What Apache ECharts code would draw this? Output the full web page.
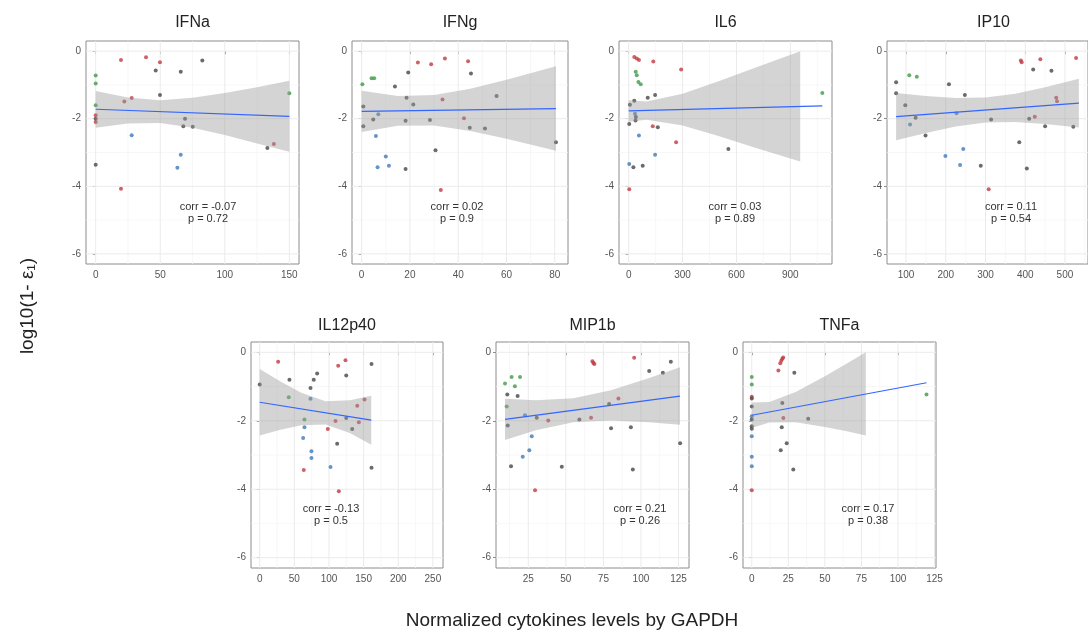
<!DOCTYPE html>
<html>
<head>
<meta charset="utf-8">
<script src="https://cdn.jsdelivr.net/npm/echarts@6/dist/echarts.min.js"></script>
<style>
  html, body { margin: 0; padding: 0; background: #ffffff; }
  #chart { width: 1088px; height: 636px; }
</style>
</head>
<body>
<div id="chart"></div>
<script>
// ---- Data: one block per cytokine. Points are [level, log10(1-e), group]. ----
// groups: r = red, g = green, b = blue, k = dark grey
const ifnaPoints = [[0,-0.72,'g'],[0,-0.96,'g'],[0,-1.6,'g'],[0,-1.9,'r'],[0,-2.0,'k'],[0,-2.1,'r'],[0,-3.36,'k'],
  [19.6,-0.26,'r'],[19.6,-4.07,'r'],[22.2,-1.49,'r'],[27.9,-1.39,'r'],[27.9,-2.49,'b'],[39,-0.18,'r'],[46.5,-0.57,'k'],
  [49.8,-0.33,'r'],[49.8,-1.3,'k'],[63.3,-3.45,'b'],[65.9,-0.61,'k'],[65.9,-3.07,'b'],[67.9,-2.22,'k'],[69.2,-2.0,'k'],
  [75.2,-2.24,'k'],[82.6,-0.28,'k'],[133,-2.87,'k'],[138,-2.75,'r'],[150,-1.25,'g']];
const ifnaFitX = [0, 150];
const ifnaFitY = [-1.72, -1.93];
const ifnaBandX = [0, 25, 50, 75, 100, 125, 150];
const ifnaBandLo = [-2.27, -2.14, -2.13, -2.27, -2.48, -2.73, -2.98];
const ifnaBandHi = [-1.18, -1.37, -1.45, -1.38, -1.24, -1.07, -0.88];
const ifnaTicks = [0, 50, 100, 150];

const ifngPoints = [[0.3,-0.98,'g'],[0.7,-1.64,'k'],[0.7,-2.22,'k'],[4.1,-0.8,'g'],[5.2,-0.8,'g'],[4.8,-2.02,'k'],
  [6.9,-1.87,'b'],[5.9,-2.51,'b'],[6.6,-3.44,'b'],[10,-3.12,'b'],[11.3,-3.39,'b'],[13.8,-1.05,'k'],[18.2,-3.49,'k'],
  [18.2,-2.06,'k'],[18.6,-1.38,'k'],[19.3,-0.63,'k'],[21.4,-1.58,'k'],[23.3,-0.34,'r'],[28.3,-2.04,'k'],[28.8,-0.39,'r'],
  [30.6,-2.93,'k'],[32.8,-4.11,'r'],[33.5,-1.43,'r'],[34.5,-0.22,'r'],[42.4,-1.99,'r'],[44.1,-0.3,'r'],[44.8,-2.27,'k'],
  [45.3,-0.66,'k'],[51.1,-2.29,'k'],[55.9,-1.33,'k'],[80.5,-2.7,'k']];
const ifngFitX = [0, 80.5];
const ifngFitY = [-1.78, -1.70];
const ifngBandX = [0, 15, 30, 45, 60, 80.5];
const ifngBandLo = [-2.39, -2.21, -2.20, -2.36, -2.59, -2.95];
const ifngBandHi = [-1.17, -1.33, -1.30, -1.11, -0.85, -0.45];
const ifngTicks = [0, 20, 40, 60, 80];

const il6Points = [[31,-0.17,'r'],[45,-0.22,'r'],[57,-0.26,'r'],[137,-0.31,'r'],[292,-0.54,'r'],[39,-0.61,'g'],
  [45,-0.71,'g'],[54,-0.91,'g'],[67,-0.98,'g'],[106,-1.38,'k'],[147,-1.3,'k'],[31,-1.47,'k'],[7,-1.59,'k'],
  [35,-1.85,'b'],[40,-1.95,'k'],[38,-2.05,'k'],[3,-2.16,'k'],[134,-2.22,'r'],[162,-2.25,'k'],[57,-2.5,'b'],
  [264,-2.7,'r'],[555,-2.9,'k'],[147,-3.07,'b'],[3,-3.34,'b'],[26,-3.44,'k'],[78,-3.39,'k'],[3,-4.09,'r'],[1078,-1.24,'g']];
const il6FitX = [0, 1078];
const il6FitY = [-1.77, -1.62];
const il6BandX = [0, 100, 300, 500, 700, 955];
const il6BandLo = [-2.09, -2.03, -2.20, -2.51, -2.85, -3.27];
const il6BandHi = [-1.45, -1.49, -1.26, -0.89, -0.50, 0.0];
const il6Ticks = [0, 300, 600, 900];

const ip10Points = [[75,-0.92,'k'],[75,-1.25,'k'],[98,-1.6,'k'],[108,-0.71,'g'],[127,-0.76,'g'],[110,-2.17,'b'],
  [124,-1.97,'k'],[149,-2.5,'k'],[199,-3.1,'b'],[208,-0.98,'k'],[227,-1.84,'b'],[236,-3.37,'b'],[244,-2.9,'b'],
  [248,-1.3,'k'],[288,-3.39,'k'],[308,-4.09,'r'],[314,-2.02,'k'],[385,-2.7,'k'],[389,-0.28,'r'],[391,-0.33,'r'],
  [404,-3.47,'k'],[410,-2.0,'k'],[420,-0.54,'k'],[424,-1.94,'r'],[438,-0.24,'r'],[450,-2.22,'k'],[466,-0.58,'k'],
  [478,-1.38,'r'],[480,-1.48,'r'],[521,-2.24,'k'],[528,-0.2,'r']];
const ip10FitX = [75, 535];
const ip10FitY = [-1.94, -1.54];
const ip10BandX = [75, 150, 225, 300, 375, 450, 535];
const ip10BandLo = [-2.64, -2.42, -2.23, -2.11, -2.10, -2.16, -2.26];
const ip10BandHi = [-1.24, -1.33, -1.39, -1.37, -1.26, -1.07, -0.82];
const ip10Ticks = [100, 200, 300, 400, 500];

const il12Points = [[0,-0.94,'k'],[26.6,-0.28,'r'],[42.9,-0.8,'k'],[41.9,-1.31,'g'],[62.7,-2.5,'b'],[64.6,-2.19,'b'],
  [64.6,-1.96,'g'],[63.6,-3.44,'r'],[73.3,-1.04,'k'],[73.3,-1.36,'b'],[74.7,-2.89,'b'],[74.7,-3.09,'b'],[78,-0.8,'k'],
  [82.9,-0.62,'k'],[98.3,-2.24,'r'],[102.2,-3.35,'b'],[109.4,-2.01,'r'],[111.8,-2.67,'k'],[113.3,-0.39,'r'],
  [114.2,-4.06,'r'],[123.8,-0.23,'r'],[124.9,-0.68,'k'],[124.9,-1.92,'k'],[133.5,-2.24,'k'],[140.8,-1.56,'r'],
  [143.1,-2.04,'r'],[151.3,-1.38,'r'],[161.4,-0.34,'k'],[161.4,-3.37,'k']];
const il12FitX = [0, 161];
const il12FitY = [-1.46, -1.98];
const il12BandX = [0, 30, 60, 95, 130, 161];
const il12BandLo = [-2.43, -2.26, -2.13, -2.11, -2.36, -2.70];
const il12BandHi = [-0.49, -0.85, -1.18, -1.43, -1.40, -1.27];
const il12Ticks = [0, 50, 100, 150, 200, 250];

const mip1bPoints = [[9.5,-0.91,'g'],[11,-1.23,'k'],[13.9,-0.72,'g'],[16.1,-0.99,'g'],[19.5,-0.72,'g'],[17.9,-1.28,'k'],
  [10.6,-1.58,'g'],[11.3,-2.14,'k'],[13.5,-3.33,'k'],[22.8,-1.84,'b'],[21.3,-3.05,'b'],[25.7,-2.86,'b'],[27.3,-2.45,'b'],
  [30.6,-1.91,'k'],[29.5,-4.03,'r'],[38.3,-1.99,'r'],[47.3,-3.34,'k'],[59,-1.96,'k'],[66.8,-1.91,'r'],[67.7,-0.26,'r'],
  [68.3,-0.31,'r'],[69,-0.34,'r'],[78.8,-1.51,'k'],[85,-1.35,'r'],[80.1,-2.22,'k'],[93.3,-2.19,'k'],[94.6,-3.42,'k'],
  [95.5,-0.16,'r'],[105.5,-0.55,'k'],[114.6,-0.6,'k'],[119.9,-0.28,'k'],[126.1,-2.66,'k']];
const mip1bFitX = [9.5, 126];
const mip1bFitY = [-1.96, -1.28];
const mip1bBandX = [9.5, 30, 55, 80, 105, 126];
const mip1bBandLo = [-2.56, -2.28, -2.04, -1.99, -2.04, -2.12];
const mip1bBandHi = [-1.36, -1.40, -1.34, -1.11, -0.76, -0.44];
const mip1bTicks = [25, 50, 75, 100, 125];

const tnfaPoints = [[0,-0.72,'g'],[0,-0.94,'g'],[0,-1.3,'r'],[0,-1.35,'k'],[0,-1.58,'k'],[0,-1.87,'b'],[0,-1.96,'k'],
  [0,-2.16,'k'],[0,-2.23,'k'],[0,-2.45,'b'],[0,-3.05,'b'],[0,-3.33,'b'],[0,-4.03,'r'],[18.2,-0.53,'r'],[19.5,-0.32,'r'],
  [20.2,-0.25,'r'],[20.9,-0.19,'r'],[21.5,-0.15,'r'],[29.1,-0.6,'k'],[20.9,-1.48,'k'],[21.6,-1.92,'r'],[20.5,-2.19,'k'],
  [19.8,-2.86,'k'],[23.9,-2.66,'k'],[28.4,-3.42,'k'],[38.6,-1.94,'k'],[119.5,-1.23,'g']];
const tnfaFitX = [0, 119.5];
const tnfaFitY = [-1.84, -0.89];
const tnfaBandX = [0, 12, 30, 50, 65, 78];
const tnfaBandLo = [-2.21, -2.05, -2.04, -2.18, -2.31, -2.43];
const tnfaBandHi = [-1.47, -1.45, -1.16, -0.70, -0.33, 0.0];
const tnfaTicks = [0, 25, 50, 75, 100, 125];

// correlation statistics printed inside each panel
const corrLabels = ['corr = -0.07', 'corr = 0.02', 'corr = 0.03', 'corr = 0.11', 'corr = -0.13', 'corr = 0.21', 'corr = 0.17'];
const pLabels = ['p = 0.72', 'p = 0.9', 'p = 0.89', 'p = 0.54', 'p = 0.5', 'p = 0.26', 'p = 0.38'];
const panelNames = ['IFNa', 'IFNg', 'IL6', 'IP10', 'IL12p40', 'MIP1b', 'TNFa'];
const yTicks = [-6, -4, -2, 0];
const yMinor = [-5, -3, -1];

// ---- Layout of the facet grid ----
const Y_MIN = -6.3, Y_MAX = 0.3;
const layout = [
  { left: 86,  top: 41,  width: 213, height: 223, xMin: -7.5, xMax: 157.5, textX: 208 },
  { left: 352, top: 41,  width: 216, height: 223, xMin: -4,   xMax: 85.5,  textX: 457 },
  { left: 619, top: 41,  width: 213, height: 223, xMin: -54,  xMax: 1132,  textX: 735 },
  { left: 887, top: 41,  width: 213, height: 223, xMin: 52,   xMax: 558,   textX: 1011 },
  { left: 251, top: 342, width: 192, height: 226, xMin: -12.6, xMax: 264.6, textX: 331 },
  { left: 496, top: 342, width: 193, height: 226, xMin: 3.5,  xMax: 132,   textX: 640 },
  { left: 743, top: 342, width: 193, height: 226, xMin: -6,   xMax: 126,   textX: 868 }
];

const panelData = [
  { pts: ifnaPoints,  fitX: ifnaFitX,  fitY: ifnaFitY,  bx: ifnaBandX,  lo: ifnaBandLo,  hi: ifnaBandHi,  ticks: ifnaTicks },
  { pts: ifngPoints,  fitX: ifngFitX,  fitY: ifngFitY,  bx: ifngBandX,  lo: ifngBandLo,  hi: ifngBandHi,  ticks: ifngTicks },
  { pts: il6Points,   fitX: il6FitX,   fitY: il6FitY,   bx: il6BandX,   lo: il6BandLo,   hi: il6BandHi,   ticks: il6Ticks },
  { pts: ip10Points,  fitX: ip10FitX,  fitY: ip10FitY,  bx: ip10BandX,  lo: ip10BandLo,  hi: ip10BandHi,  ticks: ip10Ticks },
  { pts: il12Points,  fitX: il12FitX,  fitY: il12FitY,  bx: il12BandX,  lo: il12BandLo,  hi: il12BandHi,  ticks: il12Ticks },
  { pts: mip1bPoints, fitX: mip1bFitX, fitY: mip1bFitY, bx: mip1bBandX, lo: mip1bBandLo, hi: mip1bBandHi, ticks: mip1bTicks },
  { pts: tnfaPoints,  fitX: tnfaFitX,  fitY: tnfaFitY,  bx: tnfaBandX,  lo: tnfaBandLo,  hi: tnfaBandHi,  ticks: tnfaTicks }
];

const GROUP_COLORS = { r: '#c23a41', g: '#43994a', b: '#3f79b8', k: '#464646' };
const FONT = "'Liberation Sans', Arial, sans-serif";
const TICK_COLOR = '#555555';
const BORDER = '#8c8c8c';

const grids = [], xAxes = [], yAxes = [], series = [], graphics = [];

panelData.forEach((pd, i) => {
  const L = layout[i];
  grids.push({ left: L.left, top: L.top, width: L.width, height: L.height,
    show: true, borderColor: BORDER, borderWidth: 1, backgroundColor: '#ffffff' });

  xAxes.push({
    type: 'value', gridIndex: i, min: L.xMin, max: L.xMax,
    axisLine: { show: false },
    splitLine: { show: false },
    axisTick: { show: true, customValues: pd.ticks, length: 3, lineStyle: { color: BORDER } },
    axisLabel: { customValues: pd.ticks, color: TICK_COLOR, fontSize: 10, fontFamily: FONT, margin: 6 }
  });
  yAxes.push({
    type: 'value', gridIndex: i, min: Y_MIN, max: Y_MAX,
    axisLine: { show: false },
    splitLine: { show: false },
    axisTick: { show: true, customValues: yTicks, length: 3, lineStyle: { color: BORDER } },
    axisLabel: { customValues: yTicks, color: TICK_COLOR, fontSize: 10, fontFamily: FONT, margin: 5 }
  });

  // background grid lines: [value, direction (0 = vertical, 1 = horizontal), major?]
  const minorX = [];
  for (let k = 0; k < pd.ticks.length - 1; k++) minorX.push((pd.ticks[k] + pd.ticks[k + 1]) / 2);
  const step = pd.ticks[1] - pd.ticks[0];
  if (pd.ticks[0] - step / 2 > L.xMin) minorX.push(pd.ticks[0] - step / 2);
  if (pd.ticks[pd.ticks.length - 1] + step / 2 < L.xMax) minorX.push(pd.ticks[pd.ticks.length - 1] + step / 2);
  const gridLines = [];
  minorX.forEach(v => gridLines.push([v, 0, 0]));
  yMinor.forEach(v => gridLines.push([v, 1, 0]));
  pd.ticks.forEach(v => gridLines.push([v, 0, 1]));
  yTicks.forEach(v => gridLines.push([v, 1, 1]));
  series.push({
    type: 'custom', xAxisIndex: i, yAxisIndex: i, silent: true, z: 1,
    data: gridLines,
    encode: { x: -1, y: -1 },
    renderItem: (params, api) => {
      const v = api.value(0), dir = api.value(1), major = api.value(2);
      const p1 = dir === 0 ? api.coord([v, Y_MIN]) : api.coord([L.xMin, v]);
      const p2 = dir === 0 ? api.coord([v, Y_MAX]) : api.coord([L.xMax, v]);
      return { type: 'line', shape: { x1: p1[0], y1: p1[1], x2: p2[0], y2: p2[1] },
        style: { stroke: major ? '#ebebeb' : '#f4f4f4', lineWidth: major ? 1 : 0.7 } };
    }
  });

  // observations
  series.push({
    type: 'scatter', xAxisIndex: i, yAxisIndex: i, z: 2, symbolSize: 4, silent: true,
    data: pd.pts.map(p => ({ value: [p[0], p[1]], itemStyle: { color: GROUP_COLORS[p[2]] } }))
  });

  // confidence band of the linear fit
  series.push({
    type: 'custom', xAxisIndex: i, yAxisIndex: i, z: 3, silent: true,
    data: [[pd.bx[0], pd.lo[0]]],
    renderItem: (params, api) => {
      const pts = [];
      pd.bx.forEach((x, k) => pts.push(api.coord([x, pd.hi[k]])));
      for (let k = pd.bx.length - 1; k >= 0; k--) pts.push(api.coord([pd.bx[k], pd.lo[k]]));
      return { type: 'polygon', shape: { points: pts }, style: { fill: 'rgba(153,153,153,0.42)' } };
    }
  });

  // fitted regression line
  series.push({
    type: 'line', xAxisIndex: i, yAxisIndex: i, z: 4, silent: true, showSymbol: false, symbol: 'none',
    data: pd.fitX.map((x, k) => [x, pd.fitY[k]]),
    lineStyle: { color: '#3366ff', width: 1.2 }
  });

  // panel strip title
  graphics.push({ type: 'text', z: 50, x: L.left + L.width / 2, y: L.top - (i < 4 ? 18 : 16),
    style: { text: panelNames[i], fill: '#222222', font: '16px ' + FONT, textAlign: 'center', textVerticalAlign: 'middle' } });
  // statistics
  const ty = i < 4 ? 207 : 509;
  graphics.push({ type: 'text', z: 50, x: L.textX, y: ty,
    style: { text: corrLabels[i], fill: '#333333', font: '11px ' + FONT, textAlign: 'center', textVerticalAlign: 'middle' } });
  graphics.push({ type: 'text', z: 50, x: L.textX, y: ty + 12,
    style: { text: pLabels[i], fill: '#333333', font: '11px ' + FONT, textAlign: 'center', textVerticalAlign: 'middle' } });
});

// shared axis titles
graphics.push({ type: 'text', z: 50, x: 572, y: 621,
  style: { text: 'Normalized cytokines levels by GAPDH', fill: '#222222', font: '19px ' + FONT,
    textAlign: 'center', textVerticalAlign: 'middle' } });
graphics.push({ type: 'text', z: 50, x: 28, y: 306, rotation: Math.PI / 2,
  style: { text: 'log10(1- \u03B5\u2081)', fill: '#222222', font: '19px ' + FONT,
    textAlign: 'center', textVerticalAlign: 'middle' } });

const chart = echarts.init(document.getElementById('chart'), null, { renderer: 'canvas' });
chart.setOption({
  animation: false,
  backgroundColor: '#ffffff',
  grid: grids,
  xAxis: xAxes,
  yAxis: yAxes,
  series: series,
  graphic: { elements: graphics }
});
</script>
</body>
</html>
